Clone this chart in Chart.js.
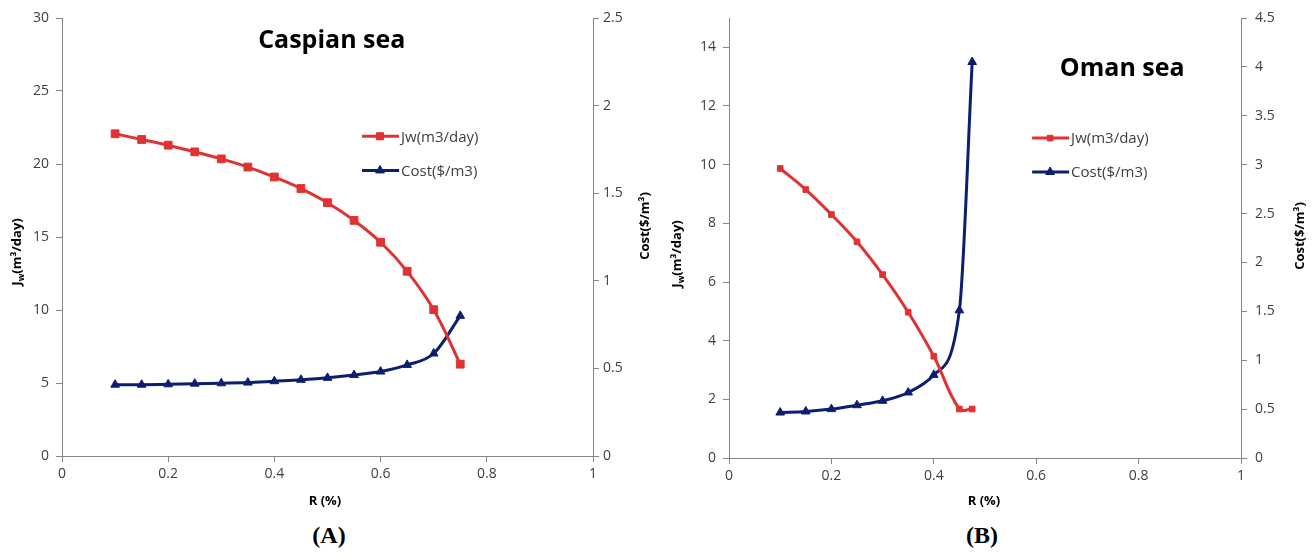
<!DOCTYPE html>
<html>
<head>
<meta charset="utf-8">
<script src="https://cdn.jsdelivr.net/npm/chart.js@4.4.1/dist/chart.umd.min.js"></script>
<style>
  body { margin: 0; background: #fff; width: 1315px; height: 556px; position: relative; overflow: hidden; }
  .box { position: absolute; top: 0; height: 515px; }
  .panel { position: absolute; top: 522px; font: bold 24px 'Liberation Serif', serif; transform: translateX(-50%); }
</style>
</head>
<body>
<div class="box" style="left:0;width:660px"><canvas id="chartA"></canvas></div>
<div class="box" style="left:660px;width:655px"><canvas id="chartB"></canvas></div>
<div class="panel" style="left:329px">(A)</div>
<div class="panel" style="left:982px">(B)</div>
<script>
// Caspian sea (A)
const rCaspian = [0.1, 0.15, 0.2, 0.25, 0.3, 0.35, 0.4, 0.45, 0.5, 0.55, 0.6, 0.65, 0.7, 0.75];
const jwCaspian = [22.07, 21.68, 21.29, 20.83, 20.35, 19.79, 19.11, 18.32, 17.35, 16.14, 14.64, 12.65, 10.02, 6.29];
const costCaspian = [0.407, 0.407, 0.409, 0.413, 0.415, 0.419, 0.427, 0.435, 0.446, 0.462, 0.482, 0.52, 0.585, 0.80];

// Oman sea (B)
const rOman = [0.1, 0.15, 0.2, 0.25, 0.3, 0.35, 0.4, 0.45, 0.475];
const jwOman = [9.87, 9.15, 8.3, 7.37, 6.25, 4.97, 3.47, 1.67, 1.67];
const costOman = [0.465, 0.476, 0.50, 0.54, 0.585, 0.67, 0.85, 1.51, 4.05];

const seriesLabels = ['Jw(m3/day)', 'Cost($/m3)'];

const RED = '#e03232';
const BLUE = '#0c1f6e';
const AXIS = '#868686';
const TICK_TXT = '#404040';
const FONT = "'Open Sans', sans-serif";

// draws the in-plot title, legend and axis titles
const decor = {
  id: 'decor',
  afterDraw(chart, args, o) {
    const { ctx, chartArea: a } = chart;
    ctx.save();
    ctx.fillStyle = '#000';
    ctx.textAlign = 'center';
    ctx.textBaseline = 'middle';
    ctx.font = 'bold 25px ' + FONT;
    ctx.fillText(o.title, a.left + o.titleX * a.width, a.top + o.titleY * a.height);

    // legend
    ctx.font = '15px ' + FONT;
    ctx.textAlign = 'left';
    chart.data.datasets.forEach((ds, i) => {
      const x = a.left + o.legX * a.width;
      const y = a.top + o.legY[i] * a.height;
      ctx.strokeStyle = ds.borderColor;
      ctx.fillStyle = ds.backgroundColor;
      ctx.lineWidth = 3;
      ctx.beginPath();
      ctx.moveTo(x, y);
      ctx.lineTo(x + 37, y);
      ctx.stroke();
      ctx.lineWidth = 1;
      Chart.helpers.drawPoint(ctx, {
        pointStyle: ds.pointStyle, radius: o.legR[i], borderWidth: 1, rotation: 0
      }, x + 18, y);
      ctx.fillStyle = '#404040';
      ctx.fillText(ds.label, x + 39, y + 1);
    });

    // axis titles
    ctx.fillStyle = '#000';
    ctx.font = 'bold 13px ' + FONT;
    ctx.textAlign = 'center';
    ctx.fillText('R (%)', o.rX, o.rY);

    // left: J_w(m³/day), reading bottom to top
    ctx.save();
    ctx.translate(o.jwX, o.jwY);
    ctx.rotate(-Math.PI / 2);
    ctx.textAlign = 'left';
    const main = '(m\u00b3/day)';
    ctx.font = 'bold 13px ' + FONT;
    const wJ = ctx.measureText('J').width;
    ctx.font = 'bold 9px ' + FONT;
    const wSub = ctx.measureText('w').width;
    ctx.font = 'bold 13px ' + FONT;
    const total = wJ + wSub + ctx.measureText(main).width;
    let cx = -total / 2;
    ctx.fillText('J', cx, 0);
    cx += wJ;
    ctx.font = 'bold 9px ' + FONT;
    ctx.fillText('w', cx, 4);
    cx += wSub;
    ctx.font = 'bold 13px ' + FONT;
    ctx.fillText(main, cx, 0);
    ctx.restore();

    // right: Cost($/m³)
    ctx.save();
    ctx.translate(o.costX, o.costY);
    ctx.rotate(-Math.PI / 2);
    ctx.fillText('Cost($/m\u00b3)', 0, 0);
    ctx.restore();

    ctx.restore();
  }
};

function toPoints(xs, ys) {
  return xs.map((x, i) => ({ x: x, y: ys[i] }));
}

function axisGrid() {
  return {
    drawOnChartArea: false,
    drawTicks: true,
    tickLength: 6,
    tickColor: AXIS,
    color: AXIS
  };
}

// Excel style numbers: 1 instead of 1.0
const plainNum = v => String(Math.round(v * 100) / 100);

function makeChart(id, c) {
  return new Chart(document.getElementById(id), {
    type: 'line',
    data: {
      datasets: [
        {
          label: seriesLabels[0],
          data: toPoints(c.r, c.jw),
          yAxisID: 'y',
          borderColor: RED,
          backgroundColor: RED,
          pointStyle: 'rect',
          pointRadius: c.sqR,
          pointBorderWidth: 1,
          borderWidth: 3,
          tension: 0.4
        },
        {
          label: seriesLabels[1],
          data: toPoints(c.r, c.cost),
          yAxisID: 'y1',
          borderColor: BLUE,
          backgroundColor: BLUE,
          pointStyle: 'triangle',
          pointRadius: 5,
          pointBorderWidth: 1,
          borderWidth: 3,
          cubicInterpolationMode: 'monotone'
        }
      ]
    },
    options: {
      responsive: true,
      maintainAspectRatio: false,
      animation: false,
      events: [],
      layout: { padding: { top: c.padTop, left: 0, right: 0, bottom: 0 } },
      plugins: {
        legend: { display: false },
        tooltip: { enabled: false },
        decor: c.decor
      },
      scales: {
        x: {
          type: 'linear',
          min: 0, max: 1,
          ticks: { stepSize: 0.2, color: TICK_TXT, font: { family: FONT, size: 14 }, padding: 4, maxRotation: 0, callback: plainNum },
          grid: axisGrid(),
          border: { color: AXIS, width: 1 },
          afterFit: s => { s.height = c.xH; }
        },
        y: {
          min: 0, max: c.jwMax,
          ticks: { stepSize: c.jwStep, color: TICK_TXT, font: { family: FONT, size: 14 }, padding: 7, callback: plainNum },
          grid: axisGrid(),
          border: { color: AXIS, width: 1 },
          afterBuildTicks: s => { s.ticks = s.ticks.filter(t => Math.abs(t.value / c.jwStep - Math.round(t.value / c.jwStep)) < 1e-6); },
          afterFit: s => { s.width = c.leftW; }
        },
        y1: {
          position: 'right',
          min: 0, max: c.costMax,
          ticks: { stepSize: 0.5, color: TICK_TXT, font: { family: FONT, size: 14 }, padding: c.rightPad, callback: plainNum },
          grid: axisGrid(),
          border: { color: AXIS, width: 1 },
          afterFit: s => { s.width = c.rightW; }
        }
      }
    },
    plugins: [decor]
  });
}

makeChart('chartA', {
  r: rCaspian, jw: jwCaspian, cost: costCaspian,
  jwMax: 30, jwStep: 5, costMax: 2.5,
  sqR: 5.5, padTop: 18, xH: 59, leftW: 62, rightW: 67, rightPad: 4,
  decor: {
    title: 'Caspian sea', titleX: 0.508, titleY: 0.053,
    legX: 0.565, legY: [0.27, 0.348], legR: [5, 5],
    rX: 325, rY: 501, jwX: 17, jwY: 252, costX: 645, costY: 226
  }
});

makeChart('chartB', {
  r: rOman, jw: jwOman, cost: costOman,
  jwMax: 15, jwStep: 2, costMax: 4.5,
  sqR: 4, padTop: 18, xH: 57, leftW: 69, rightW: 74, rightPad: 8,
  decor: {
    title: 'Oman sea', titleX: 0.768, titleY: 0.116,
    legX: 0.592, legY: [0.273, 0.35], legR: [4, 5],
    rX: 324, rY: 501, jwX: 17, jwY: 254, costX: 640, costY: 236
  }
});
</script>
</body>
</html>
